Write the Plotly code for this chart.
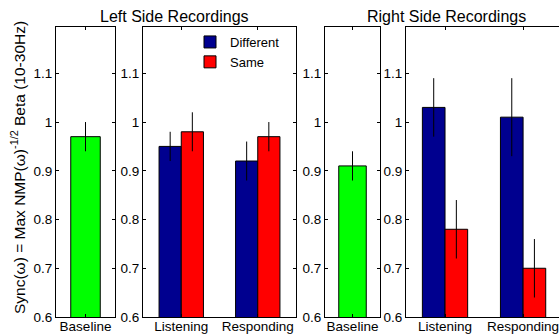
import plotly.graph_objects as go

groups = ["Listening", "Responding"]
baseline_label = ["Baseline"]

left_baseline = [0.97]
left_baseline_err = [0.03]
left_diff = [0.95, 0.92]
left_diff_err = [0.03, 0.04]
left_same = [0.98, 0.97]
left_same_err = [0.04, 0.03]

right_baseline = [0.91]
right_baseline_err = [0.03]
right_diff = [1.03, 1.01]
right_diff_err = [0.06, 0.08]
right_same = [0.78, 0.70]
right_same_err = [0.06, 0.06]

y_ticks = [0.6, 0.7, 0.8, 0.9, 1.0, 1.1]
y_ticktext = ["0.6", "0.7", "0.8", "0.9", "1", "1.1"]

BLUE = "#00008F"
RED = "#FF0000"
GREEN = "#00FF00"
W, H = 559, 335
FONT = "Liberation Sans, Arial, sans-serif"

def px(x):
    return x / W

def err(vals):
    return dict(type="data", array=vals, color="#000000", thickness=1, width=0)

fig = go.Figure()
mk = dict(line=dict(color="#000000", width=1))

fig.add_trace(go.Bar(x=baseline_label, y=left_baseline, error_y=err(left_baseline_err),
                     marker=dict(color=GREEN, **mk), width=0.5, showlegend=False,
                     xaxis="x", yaxis="y"))
fig.add_trace(go.Bar(x=groups, y=left_diff, error_y=err(left_diff_err), name="Different",
                     marker=dict(color=BLUE, **mk), xaxis="x2", yaxis="y2"))
fig.add_trace(go.Bar(x=groups, y=left_same, error_y=err(left_same_err), name="Same",
                     marker=dict(color=RED, **mk), xaxis="x2", yaxis="y2"))
fig.add_trace(go.Bar(x=baseline_label, y=right_baseline, error_y=err(right_baseline_err),
                     marker=dict(color=GREEN, **mk), width=0.5, showlegend=False,
                     xaxis="x3", yaxis="y3"))
fig.add_trace(go.Bar(x=groups, y=right_diff, error_y=err(right_diff_err), showlegend=False,
                     marker=dict(color=BLUE, **mk), xaxis="x4", yaxis="y4"))
fig.add_trace(go.Bar(x=groups, y=right_same, error_y=err(right_same_err), showlegend=False,
                     marker=dict(color=RED, **mk), xaxis="x4", yaxis="y4"))

top_px, bot_px = 27, 317
ydom = [(H - bot_px) / H, (H - top_px) / H]
# (left px, right px, visible fraction of the last category slot)
panels = [(56, 115, None), (143, 296, None), (325, 380, None), (406, 559, 1.46)]

layout = dict(
    width=W, height=H,
    margin=dict(l=0, r=0, t=0, b=0),
    paper_bgcolor="white", plot_bgcolor="white",
    barmode="group", bargap=0.42, bargroupgap=0,
    font=dict(family=FONT, size=13, color="#000000"),
    legend=dict(x=px(190), y=(H - 27) / H, xanchor="left", yanchor="top",
                bgcolor="rgba(0,0,0,0)", borderwidth=0, font=dict(size=13),
                tracegroupgap=0, itemwidth=30),
)
for i, (x0, x1, rmax) in enumerate(panels):
    sfx = "" if i == 0 else str(i + 1)
    ncat = 1 if i in (0, 2) else 2
    xr = [-0.5, ncat - 0.5] if rmax is None else [-0.5, rmax]
    layout["xaxis" + sfx] = dict(
        domain=[px(x0), px(x1)], anchor="y" + sfx, range=xr,
        showline=True, linecolor="#000000", linewidth=1, mirror="ticks",
        ticks="inside", ticklen=3, tickcolor="#000000", showgrid=False,
        zeroline=False, automargin=False, tickfont=dict(size=13.5), fixedrange=True,
        ticklabelstandoff=-3)
    layout["yaxis" + sfx] = dict(
        domain=ydom, anchor="x" + sfx, range=[0.6, 1.195],
        tickvals=y_ticks, ticktext=y_ticktext,
        showline=True, linecolor="#000000", linewidth=1,
        mirror="ticks" if rmax is None else False,
        ticks="inside", ticklen=3, tickcolor="#000000", showgrid=False,
        zeroline=False, automargin=False, tickfont=dict(size=13.5), fixedrange=True)
fig.update_layout(**layout)

fig.add_annotation(text="Left Side Recordings", x=px(174), y=(H - 16) / H, xref="paper", yref="paper",
                   showarrow=False, font=dict(size=16), xanchor="center", yanchor="middle")
fig.add_annotation(text="Right Side Recordings", x=px(446), y=(H - 16) / H, xref="paper", yref="paper",
                   showarrow=False, font=dict(size=16), xanchor="center", yanchor="middle")
fig.add_annotation(text="Sync(ω) = Max NMP(ω)<sup>-1/2</sup> Beta (10-30Hz)",
                   x=px(18), y=(H - 168) / H, xref="paper", yref="paper", textangle=-90,
                   showarrow=False, font=dict(size=15.5), xanchor="center", yanchor="middle")

fig.write_html("out.html", config={"displayModeBar": False, "staticPlot": True},
               post_script="document.body.style.margin='0';document.body.style.overflow='hidden';")
